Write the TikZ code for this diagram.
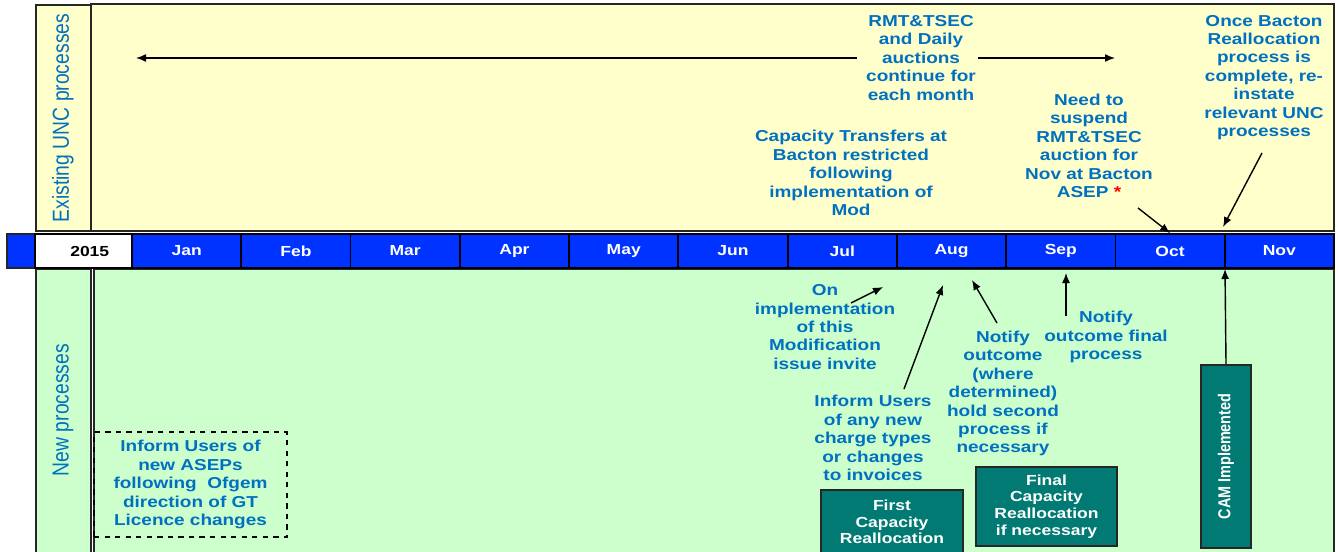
\documentclass[tikz,border=0pt]{standalone}
\usepackage{fontspec}
\setmainfont[FakeStretch=1.2]{Liberation Sans}
\newfontfamily\lanefont{Liberation Sans}
\usetikzlibrary{arrows.meta}
\definecolor{unctext}{HTML}{0070C0}
\definecolor{paleyellow}{HTML}{FFFFCC}
\definecolor{palegreen}{HTML}{CCFFCC}
\definecolor{barblue}{HTML}{0033FF}
\definecolor{camteal}{HTML}{007A73}
\newcommand{\tall}[1]{\scalebox{1}[1.2]{#1}}
\tikzset{
	lane/.style={draw=black!85, line width=1pt},
	lanetitle/.style={rotate=90, text=unctext, font=\lanefont\fontsize{11}{13}\selectfont},
	note/.style={text=unctext, align=center, inner sep=1pt, font=\bfseries\fontsize{9}{10.5}\selectfont},
	month/.style={draw=black, line width=1pt, fill=barblue, text=white, inner sep=0pt,
		minimum width=2.185cm, minimum height=.68cm, font=\bfseries\fontsize{8.3}{10}\selectfont},
	stagebox/.style={draw=black!85, line width=1.2pt, fill=camteal, text=white, align=center,
		inner sep=0pt, font=\bfseries\fontsize{8.3}{9.5}\selectfont},
	pointer/.style={-{Latex[length=2mm,width=1.6mm]}, line width=.8pt},
}
\begin{document}
\begin{tikzpicture}[x=.02cm,y=-.02cm]
	\clip (0,0) rectangle (1338,551);
	\fill[white] (0,0) rectangle (1338,551);
	% swim lanes
	\draw[lane,fill=paleyellow] (36,5) rectangle (91,231);
	\draw[lane,fill=paleyellow] (91,4) rectangle (1334,231);
	\draw[lane,fill=palegreen] (36,269) rectangle (91,570);
	\draw[lane,fill=palegreen] (94,269) rectangle (1334,570);
	\node[lanetitle] (existing) at (63,118) {\tall{Existing UNC processes}};
	\node[lanetitle] (newproc) at (63,410) {\tall{New processes}};
	% time bar
	\draw[lane,fill=barblue] (7,234) rectangle (35,268);
	\node[month,fill=white,text=black,minimum width=1.94cm] (year) at (83.5,251) {\hspace{.25cm}2015};
	\foreach \m [count=\i] in {Jan,Feb,Mar,Apr,May,Jun,Jul,Aug,Sep,Oct,Nov}
		\node[month] (m\i) at ({132+109.27*(\i-0.5)},251) {\m};
	% existing processes
	\node[note] (rmt) at (921,58) {RMT\&TSEC\\and Daily\\auctions\\continue for\\each month};
	\node[note] (restrict) at (851,173) {Capacity Transfers at\\Bacton restricted\\following\\implementation of\\Mod};
	\node[note] (suspend) at (1089,146) {Need to\\suspend\\RMT\&TSEC\\auction for\\Nov at Bacton\\ASEP {\color{red}*}};
	\node[note] (reinstate) at (1264,77.5) {Once Bacton\\Reallocation\\process is\\complete, re-\\instate\\relevant UNC\\processes};
	% new processes
	\node[note,draw=black,dashed,line width=.8pt,minimum width=3.86cm,minimum height=2.1cm] (asep) at (190.5,484.5)
		{Inform Users of\\new ASEPs\\following\ \ Ofgem\\direction of GT\\Licence changes};
	\node[note] (invite) at (825,327) {On\\implementation\\of this\\Modification\\issue invite};
	\node[note] (charges) at (873,438) {Inform Users\\of any new\\charge types\\or changes\\to invoices};
	\node[note] (second) at (1003,393.5) {Notify\\outcome\\(where\\determined)\\hold second\\process if\\necessary};
	\node[note] (outcome) at (1106,337) {Notify\\outcome final\\process};
	\node[stagebox,minimum width=2.84cm,minimum height=1.28cm] (first) at (892,522) {First\\Capacity\\Reallocation};
	\node[stagebox,minimum width=2.82cm,minimum height=1.58cm] (final) at (1046.5,506.5) {Final\\Capacity\\Reallocation\\if necessary};
	\node[stagebox,rotate=90,minimum width=3.66cm,minimum height=1cm,font=\lanefont\bfseries\fontsize{8.2}{9}\selectfont]
		(cam) at (1226,456.5) {\tall{CAM Implemented}};
	% arrow ends
	\path
	(136,58) coordinate (runL)
	(1115,58) coordinate (runR)
	(1138,208) coordinate (suspendT)
	(1262,153) coordinate (reinstateT)
	(1223,227) coordinate (reinstateH)
	(851,303) coordinate (inviteT)
	(883,287) coordinate (inviteH)
	(904,389) coordinate (chargesT)
	(943,285) coordinate (chargesH)
	(997,323) coordinate (secondT)
	(972,280) coordinate (secondH)
	(1066,316) coordinate (outcomeT)
	(1066,273) coordinate (outcomeH)
	(1225,269) coordinate (camH)
	;
	\draw[pointer] ([xshift=-.15cm]rmt.west) -- (runL);
	\draw[pointer] (rmt.east) -- (runR);
	\draw[pointer] (suspendT) -- (m10.north);
	\draw[pointer] (reinstateT) -- (reinstateH);
	\draw[pointer] (inviteT) -- (inviteH);
	\draw[pointer] (chargesT) -- (chargesH);
	\draw[pointer] (secondT) -- (secondH);
	\draw[pointer] (outcomeT) -- (outcomeH);
	\draw[pointer] (cam.east) -- (camH);
\end{tikzpicture}
\end{document}
